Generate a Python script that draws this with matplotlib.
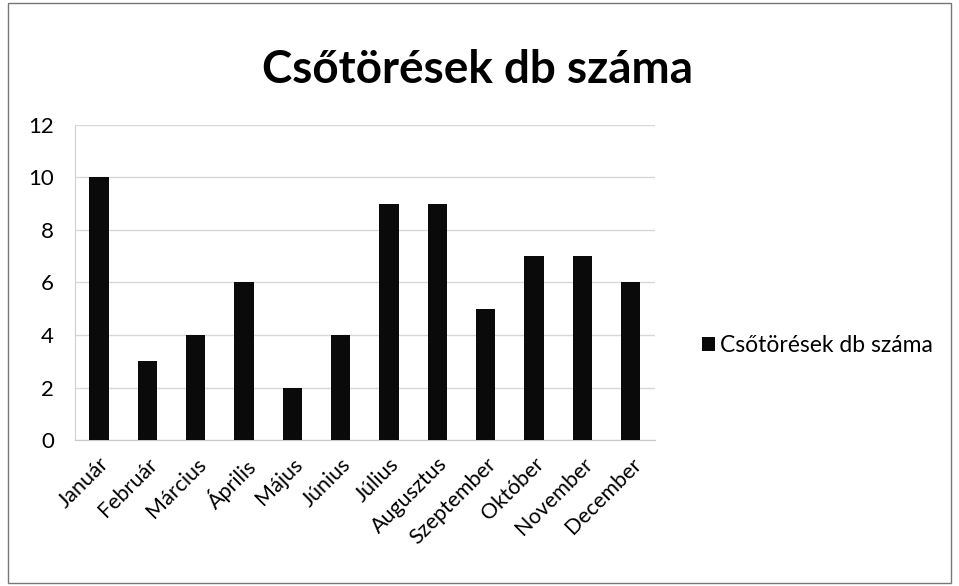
import matplotlib
matplotlib.use("Agg")
import matplotlib.pyplot as plt
from matplotlib.patches import Rectangle

months = ["Január", "Február", "Március", "Április", "Május", "Június",
          "Július", "Augusztus", "Szeptember", "Október", "November", "December"]
values = [10, 3, 4, 6, 2, 4, 9, 9, 5, 7, 7, 6]
series_name = "Csőtörések db száma"
title = "Csőtörések db száma"
yticks = [0, 2, 4, 6, 8, 10, 12]

plt.rcParams['font.family'] = ['Lato', 'DejaVu Sans']

fig = plt.figure(figsize=(9.59, 5.86), dpi=100)
ax = fig.add_axes([0.078, 0.249, 0.605, 0.538])

x = list(range(len(months)))
ax.bar(x, values, width=0.4, color="#0a0a0a", label=series_name, zorder=3)
ax.set_xlim(-0.5, len(months) - 0.5)
ax.set_ylim(0, 12)
ax.set_yticks(yticks)
ax.set_yticklabels([str(v) for v in yticks], fontsize=16)
ax.set_xticks(x)
ax.set_xticklabels(months, rotation=45, ha="right", rotation_mode="anchor", fontsize=15.5)
ax.tick_params(axis="both", length=0, pad=10)
ax.tick_params(axis="y", pad=15)
ax.yaxis.grid(True, color="#d8d8d8", linewidth=1, zorder=0)
for s in ["top", "right"]:
    ax.spines[s].set_visible(False)
ax.spines["left"].set_color("#d0d0d0")
ax.spines["bottom"].set_color("#c8c8c8")

fig.text(0.498, 0.88, title, ha="center", va="center", fontsize=33, fontweight="bold")

fig.legend(loc="center left", bbox_to_anchor=(0.71, 0.41), frameon=False,
           fontsize=16.5, handlelength=0.6, handleheight=0.6, handletextpad=0.2)

fig.patches.append(Rectangle((0.008, 0.005), 0.984, 0.99, transform=fig.transFigure,
                             fill=False, edgecolor="#777777", linewidth=1))

fig.savefig("out.png", dpi=100)
